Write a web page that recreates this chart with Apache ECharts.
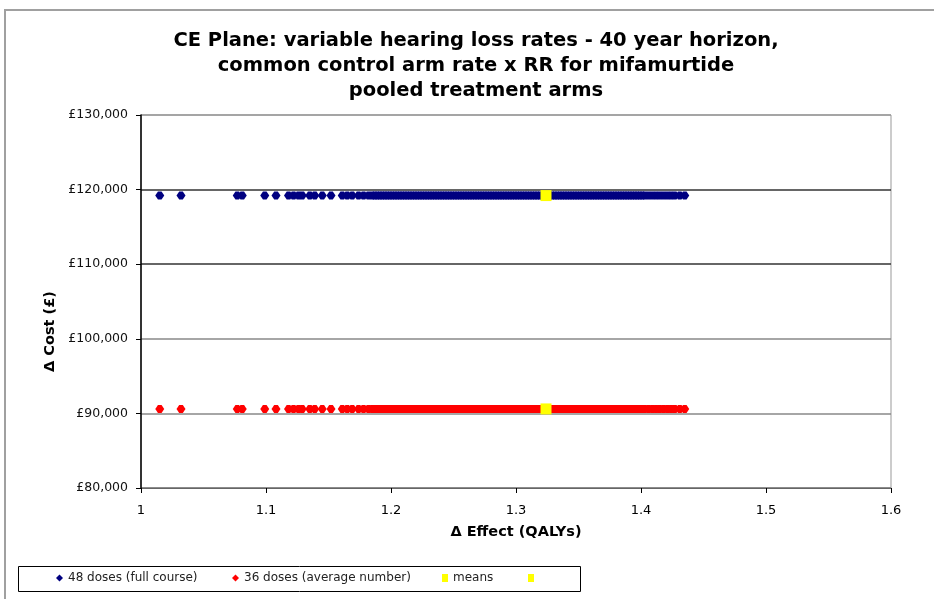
<!DOCTYPE html>
<html>
<head>
<meta charset="utf-8">
<script src="https://cdn.jsdelivr.net/npm/echarts@6/dist/echarts.min.js"></script>
<style>
html,body{margin:0;padding:0;background:#fff;}
#c{width:934px;height:599px;}
</style>
</head>
<body>
<div id="c"></div>
<script>
// Δ Effect (QALYs) of the simulation points
var effects = [
  1.015, 1.032, 1.077, 1.081, 1.099, 1.108, 1.118, 1.122, 1.126, 1.129,
  1.135, 1.139, 1.145, 1.152, 1.161, 1.165, 1.169, 1.174, 1.178, 1.182,
  1.185, 1.187, 1.189, 1.191, 1.193, 1.195, 1.197, 1.199, 1.201, 1.203,
  1.205, 1.207, 1.209, 1.211, 1.213, 1.215, 1.217, 1.219, 1.221, 1.223,
  1.225, 1.227, 1.229, 1.231, 1.233, 1.235, 1.237, 1.239, 1.241, 1.243,
  1.245, 1.247, 1.249, 1.251, 1.253, 1.255, 1.257, 1.259, 1.261, 1.263,
  1.265, 1.267, 1.269, 1.271, 1.273, 1.275, 1.277, 1.279, 1.281, 1.283,
  1.285, 1.287, 1.289, 1.291, 1.293, 1.295, 1.297, 1.299, 1.301, 1.303,
  1.305, 1.307, 1.309, 1.311, 1.313, 1.315, 1.317, 1.319, 1.321, 1.323,
  1.325, 1.327, 1.329, 1.331, 1.333, 1.335, 1.337, 1.339, 1.341, 1.343,
  1.345, 1.347, 1.349, 1.351, 1.353, 1.355, 1.357, 1.359, 1.361, 1.363,
  1.365, 1.367, 1.369, 1.371, 1.373, 1.375, 1.377, 1.379, 1.381, 1.383,
  1.385, 1.387, 1.389, 1.391, 1.393, 1.395, 1.397, 1.399, 1.401, 1.403,
  1.406, 1.409, 1.412, 1.415, 1.418, 1.421, 1.424, 1.427, 1.431, 1.435
];
// Δ Cost (£) for each arm (constant across the simulations)
var cost48 = 119200;
var cost36 = 90600;
// means
var meanEffect = [1.324, 1.324];
var meanCost = [119200, 90600];
var seriesNames = ['48 doses (full course)', '36 doses (average number)', 'means', ' '];
var xTicks = {min: 1, max: 1.6, step: 0.1};
var yTicks = {min: 80000, max: 130000, step: 10000};
var titleLines = ['CE Plane: variable hearing loss rates - 40 year horizon,', 'common control arm rate x RR for mifamurtide', 'pooled treatment arms'];

var FONT = "'DejaVu Sans', 'Liberation Sans', Arial, sans-serif";
var BLOB = 'path://M3,0 L7,0 L10,4 L7,8 L3,8 L0,4 Z';
var data48 = effects.map(function (e) { return [e, cost48]; });
var data36 = effects.map(function (e) { return [e, cost36]; });

function legendItem(name, icon, left, w, h) {
  return {
    left: left, top: 572, itemWidth: w, itemHeight: h, padding: 0,
    textStyle: {fontFamily: FONT, fontSize: 12, color: '#222'},
    itemStyle: {borderWidth: 0},
    data: [{name: name, icon: icon}]
  };
}

var chart = echarts.init(document.getElementById('c'), null, {renderer: 'canvas'});
chart.setOption({
  animation: false,
  backgroundColor: '#fff',
  textStyle: {fontFamily: FONT},
  title: {
    text: titleLines.join('\n'),
    left: 471, top: 23, textAlign: 'center',
    textStyle: {fontFamily: FONT, fontSize: 19.5, fontWeight: 'bold', color: '#000', lineHeight: 25}
  },
  graphic: [
    {type: 'rect', shape: {x: 5, y: 10, width: 1000, height: 1000}, style: {fill: 'none', stroke: '#a0a0a0', lineWidth: 2}, silent: true},
    {type: 'rect', shape: {x: 18.5, y: 566.5, width: 562, height: 25}, style: {fill: 'none', stroke: '#000', lineWidth: 1}, silent: true}
  ],
  legend: [
    legendItem(seriesNames[0], 'diamond', 56, 7, 7),
    legendItem(seriesNames[1], 'diamond', 232, 7, 7),
    legendItem(seriesNames[2], 'rect', 442, 6, 8),
    legendItem(seriesNames[3], 'rect', 528, 6, 8)
  ],
  grid: {left: 141, right: 43, top: 115, bottom: 111, show: true, borderColor: '#999', borderWidth: 1, backgroundColor: '#fff'},
  xAxis: {
    type: 'value', min: xTicks.min, max: xTicks.max, interval: xTicks.step,
    name: 'Δ Effect (QALYs)', nameLocation: 'middle', nameGap: 37,
    nameTextStyle: {fontFamily: FONT, fontSize: 14.5, fontWeight: 'bold', color: '#000'},
    axisLine: {show: true, lineStyle: {color: '#666', width: 1}},
    axisTick: {show: true, length: 5, lineStyle: {color: '#000'}},
    axisLabel: {fontFamily: FONT, fontSize: 13, color: '#000', margin: 16,
      formatter: function (v) { return String(+v.toFixed(1)); }},
    splitLine: {show: false}
  },
  yAxis: {
    type: 'value', min: yTicks.min, max: yTicks.max, interval: yTicks.step,
    name: 'Δ Cost (£)', nameLocation: 'middle', nameGap: 76, nameRotate: 90,
    nameTextStyle: {fontFamily: FONT, fontSize: 14.5, fontWeight: 'bold', color: '#000', padding: [0, 60, 0, 0]},
    axisLine: {show: true, lineStyle: {color: '#000', width: 1.5}},
    axisTick: {show: true, length: 5, lineStyle: {color: '#000'}},
    axisLabel: {fontFamily: FONT, fontSize: 12.5, color: '#111', margin: 13,
      formatter: function (v) { return '£' + v.toLocaleString('en-GB'); }},
    splitLine: {show: true, lineStyle: {color: ['#777', '#888', '#888', '#333', '#333', '#999'], width: 1.5}}
  },
  series: [
    {name: seriesNames[0], type: 'scatter', data: data48, symbol: BLOB, symbolSize: [9, 8],
      itemStyle: {color: '#000080', opacity: 1}, z: 3},
    {name: seriesNames[1], type: 'scatter', data: data36, symbol: BLOB, symbolSize: [9, 8],
      itemStyle: {color: '#ff0000', opacity: 1}, z: 3},
    {name: seriesNames[2], type: 'scatter', data: [[meanEffect[0], meanCost[0]]], symbol: 'rect', symbolSize: [11, 11],
      itemStyle: {color: '#ffff00', opacity: 1}, z: 5},
    {name: seriesNames[3], type: 'scatter', data: [[meanEffect[1], meanCost[1]]], symbol: 'rect', symbolSize: [11, 11],
      itemStyle: {color: '#ffff00', opacity: 1}, z: 5}
  ]
});
</script>
</body>
</html>
